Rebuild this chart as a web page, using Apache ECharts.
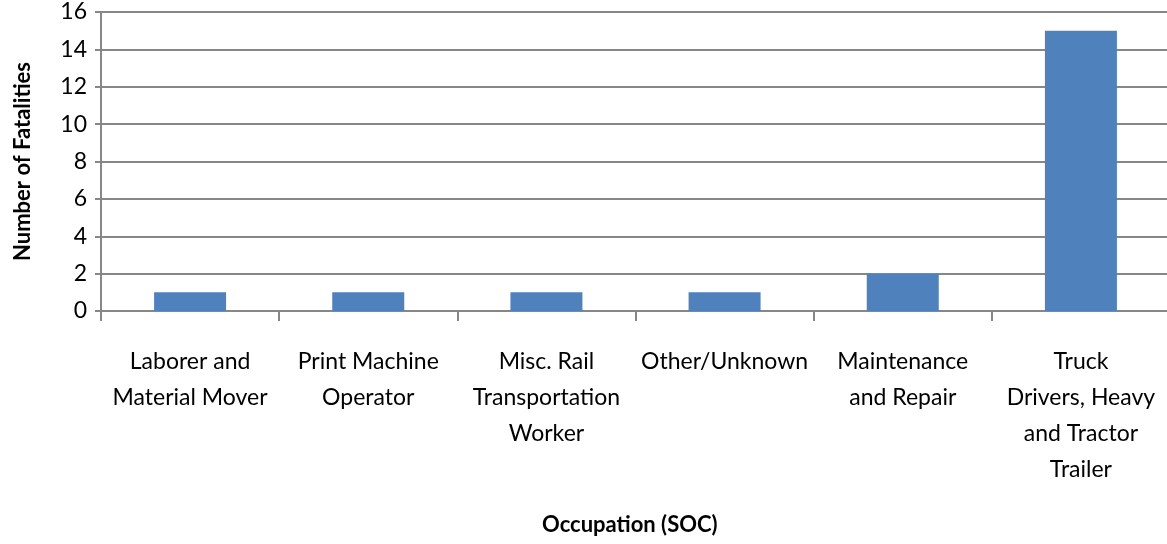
<!DOCTYPE html>
<html>
<head>
<meta charset="utf-8">
<script src="https://cdn.jsdelivr.net/npm/echarts@6/dist/echarts.min.js"></script>
<style>
  html, body { margin: 0; padding: 0; background: #fff; }
  #chart { width: 1167px; height: 544px; }
</style>
</head>
<body>
<div id="chart"></div>
<script>
  // occupations (labels broken the way the original wraps them)
  var occupations = [
    'Laborer and\nMaterial Mover',
    'Print Machine\nOperator',
    'Misc. Rail\nTransportation\nWorker',
    'Other/Unknown',
    'Maintenance\nand Repair',
    'Truck\nDrivers, Heavy\nand Tractor\nTrailer'
  ];
  var fatalities = [1, 1, 1, 1, 2, 15];

  var font = 'Lato, "Open Sans", sans-serif';
  var gray = '#878787';

  var chart = echarts.init(document.getElementById('chart'));
  chart.setOption({
    animation: false,
    grid: { left: 101, right: -3, top: 12, bottom: 233, containLabel: false, outerBoundsMode: 'none' },
    xAxis: {
      type: 'category',
      data: occupations,
      axisLine: { lineStyle: { color: gray, width: 2 } },
      axisTick: { show: true, length: 10, alignWithLabel: false, lineStyle: { color: gray, width: 2 } },
      axisLabel: {
        interval: 0, margin: 33, color: '#000',
        fontFamily: font, fontSize: 23, lineHeight: 36
      }
    },
    yAxis: {
      type: 'value',
      min: 0, max: 16, interval: 2,
      name: 'Number of Fatalities',
      nameLocation: 'middle',
      nameGap: 67,
      nameTextStyle: { fontFamily: font, fontSize: 22, fontWeight: 'bold', color: '#000' },
      axisLine: { show: true, lineStyle: { color: gray, width: 2 } },
      axisTick: { show: true, length: 6, lineStyle: { color: gray, width: 2 } },
      axisLabel: { margin: 14, color: '#000', fontFamily: font, fontSize: 23 },
      splitLine: { lineStyle: { color: gray, width: 2 } }
    },
    graphic: [{
      type: 'text',
      left: 634 - 92, top: 514,
      style: { text: 'Occupation (SOC)', fontFamily: font, fontSize: 22, fontWeight: 'bold', fill: '#000' }
    }],
    series: [{
      type: 'bar',
      data: fatalities,
      barWidth: 72,
      itemStyle: { color: '#4F81BD' }
    }]
  });
</script>
</body>
</html>
